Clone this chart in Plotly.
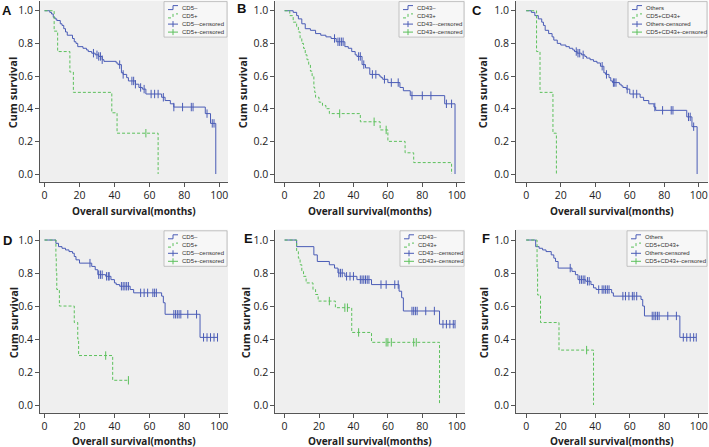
import plotly.graph_objects as go

W, H = 709, 447

# ---------------- DATA ----------------
# Panel A: CD5- (blue) / CD5+ (green)
A_neg_t = [0, 3, 4, 5, 6, 7, 9, 10, 11, 12, 13, 16, 17, 18, 19, 22, 24, 25, 27, 29, 31, 33, 34, 41, 42, 44, 45, 47, 48, 52, 54, 56, 58, 67, 69, 72, 74, 92, 95, 98]
A_neg_s = [1.0, 0.99, 0.98, 0.96, 0.95, 0.94, 0.92, 0.91, 0.89, 0.87, 0.85, 0.83, 0.81, 0.80, 0.78, 0.77, 0.76, 0.75, 0.74, 0.73, 0.72, 0.70, 0.69, 0.68, 0.67, 0.62, 0.61, 0.59, 0.57, 0.55, 0.53, 0.52, 0.49, 0.47, 0.45, 0.43, 0.41, 0.37, 0.31, 0.0]
A_neg_ct = [28, 30, 31, 32, 33, 43, 45, 50, 51, 52, 55, 57, 61, 63, 65, 68, 74, 79, 84, 85, 93, 96, 97]
A_neg_cs = [0.74, 0.73, 0.72, 0.72, 0.70, 0.67, 0.61, 0.57, 0.57, 0.55, 0.53, 0.52, 0.49, 0.49, 0.49, 0.47, 0.41, 0.41, 0.41, 0.41, 0.37, 0.31, 0.31]
A_pos_t = [0, 5.5, 7.5, 14.5, 16.5, 38.5, 41.5, 65]
A_pos_s = [1.0, 0.875, 0.75, 0.625, 0.5, 0.375, 0.25, 0.0]
A_pos_ct = [58]
A_pos_cs = [0.25]

# Panel B: CD43- / CD43+
B_neg_t = [0, 5, 7, 8, 10, 12, 15, 18, 21, 24, 27, 30, 35, 37, 39, 41, 42, 45, 47, 49.5, 55, 56, 57, 60, 67, 69, 73, 93, 99]
B_neg_s = [1.0, 0.99, 0.97, 0.95, 0.92, 0.89, 0.88, 0.86, 0.85, 0.84, 0.83, 0.81, 0.78, 0.77, 0.75, 0.73, 0.72, 0.67, 0.65, 0.61, 0.60, 0.59, 0.58, 0.56, 0.53, 0.51, 0.48, 0.43, 0.0]
B_neg_ct = [29, 31, 32, 33, 34, 43, 44, 46, 51, 53, 58, 62, 66, 74, 80, 85, 94, 97]
B_neg_cs = [0.83, 0.81, 0.81, 0.81, 0.81, 0.72, 0.72, 0.67, 0.61, 0.61, 0.58, 0.56, 0.56, 0.48, 0.48, 0.48, 0.43, 0.43]
B_pos_t = [0, 3, 5, 7, 8, 9, 10, 11, 12, 13, 14, 15, 16, 17, 17.5, 18, 20, 22, 24, 26, 44, 55.5, 60, 70, 75, 97]
B_pos_s = [1.0, 0.97, 0.93, 0.90, 0.87, 0.83, 0.80, 0.77, 0.73, 0.70, 0.67, 0.63, 0.60, 0.53, 0.50, 0.47, 0.44, 0.42, 0.40, 0.37, 0.32, 0.27, 0.20, 0.13, 0.07, 0.0]
B_pos_ct = [32, 52, 59]
B_pos_cs = [0.37, 0.32, 0.27]

# Panel C: Others / CD5+CD43+
C_neg_t = [0, 3, 5, 7, 9, 10, 11, 13, 15, 16, 18, 20, 23, 25, 27, 28, 29.5, 32, 34, 35, 37, 39, 41, 43, 45, 46, 48, 49, 50, 54, 55, 56, 58, 60, 66, 68, 71, 74, 75, 93, 96, 99]
C_neg_s = [1.0, 0.99, 0.97, 0.95, 0.93, 0.91, 0.88, 0.86, 0.84, 0.82, 0.80, 0.79, 0.78, 0.77, 0.76, 0.75, 0.74, 0.73, 0.72, 0.71, 0.70, 0.69, 0.68, 0.66, 0.62, 0.61, 0.59, 0.57, 0.56, 0.55, 0.54, 0.53, 0.52, 0.49, 0.47, 0.45, 0.43, 0.41, 0.39, 0.35, 0.29, 0.0]
C_neg_ct = [29, 30, 31, 33, 44, 46.5, 50.5, 51, 52, 58.5, 62, 64, 74.5, 79, 84, 85, 94, 95, 97]
C_neg_cs = [0.75, 0.74, 0.74, 0.73, 0.66, 0.61, 0.56, 0.56, 0.56, 0.52, 0.49, 0.49, 0.41, 0.39, 0.39, 0.39, 0.35, 0.35, 0.29]
C_pos_t = [0, 6, 8, 15.5, 17.5]
C_pos_s = [1.0, 0.75, 0.5, 0.25, 0.0]
C_pos_ct = []
C_pos_cs = []

# Panel D: CD5- / CD5+
D_neg_t = [0, 6.5, 8, 10, 12, 14, 16, 17, 18, 20, 27, 29, 30.5, 35, 38, 40, 41, 43, 49, 51, 67, 68, 69, 89, 99]
D_neg_s = [1.0, 0.98, 0.96, 0.95, 0.94, 0.93, 0.92, 0.90, 0.88, 0.86, 0.84, 0.82, 0.79, 0.78, 0.76, 0.74, 0.73, 0.72, 0.70, 0.68, 0.66, 0.62, 0.55, 0.41, 0.41]
D_neg_ct = [26, 31, 32, 33, 35.5, 36.5, 37, 44, 45, 46, 47, 48, 55, 57, 59, 62, 63, 64, 74, 75, 76, 77, 78, 82, 87, 91, 93, 95, 97, 99]
D_neg_cs = [0.86, 0.79, 0.79, 0.79, 0.78, 0.78, 0.78, 0.72, 0.72, 0.72, 0.72, 0.72, 0.68, 0.68, 0.68, 0.68, 0.68, 0.68, 0.55, 0.55, 0.55, 0.55, 0.55, 0.55, 0.55, 0.41, 0.41, 0.41, 0.41, 0.41]
D_pos_t = [0, 6.5, 6.7, 7, 8.5, 17, 19, 19.5, 39, 48]
D_pos_s = [1.0, 0.9, 0.8, 0.7, 0.6, 0.5, 0.4, 0.3, 0.15, 0.15]
D_pos_ct = [35, 48]
D_pos_cs = [0.3, 0.15]

# Panel E: CD43- / CD43+
E_neg_t = [0, 7, 17, 19, 26, 29, 31, 35, 42, 50.5, 66.5, 68, 69, 90, 99]
E_neg_s = [1.0, 0.96, 0.91, 0.87, 0.85, 0.83, 0.80, 0.78, 0.76, 0.73, 0.69, 0.65, 0.57, 0.49, 0.49]
E_neg_ct = [31.5, 32.5, 33.5, 36, 38, 40, 44, 45, 46, 47, 48, 49, 56, 59, 64, 66, 74, 75, 76, 77, 82, 87, 92, 94, 96, 98, 99]
E_neg_cs = [0.80, 0.80, 0.80, 0.78, 0.78, 0.78, 0.76, 0.76, 0.76, 0.76, 0.76, 0.76, 0.73, 0.73, 0.73, 0.73, 0.57, 0.57, 0.57, 0.57, 0.57, 0.57, 0.49, 0.49, 0.49, 0.49, 0.49]
E_pos_t = [0, 7, 8, 9, 10, 11, 12.5, 16.5, 18, 19.5, 29.5, 39, 50.5, 90]
E_pos_s = [1.0, 0.93, 0.89, 0.85, 0.81, 0.78, 0.74, 0.70, 0.67, 0.63, 0.59, 0.44, 0.38, 0.0]
E_pos_ct = [26, 35, 36.5, 43, 59, 60, 62, 75, 76.5]
E_pos_cs = [0.63, 0.59, 0.59, 0.44, 0.38, 0.38, 0.38, 0.38, 0.38]

# Panel F: Others / CD5+CD43+
F_neg_t = [0, 5.5, 7.5, 9.5, 11.5, 14.5, 16, 17, 18.5, 26.5, 28.5, 30, 34.5, 37.5, 39, 40.5, 49.5, 50.5, 66.5, 67.5, 68.5, 89, 98.5]
F_neg_s = [1.0, 0.96, 0.95, 0.94, 0.93, 0.91, 0.89, 0.87, 0.83, 0.81, 0.79, 0.76, 0.75, 0.73, 0.71, 0.70, 0.68, 0.66, 0.64, 0.60, 0.54, 0.41, 0.41]
F_neg_ct = [25.5, 31, 32, 33, 34, 35.5, 36.5, 42, 44, 45, 46, 47, 48, 56, 57.5, 59.5, 61.5, 62.5, 64, 73, 74, 75, 76, 77, 82, 87, 91, 93, 95, 97, 98.5]
F_neg_cs = [0.83, 0.76, 0.76, 0.76, 0.76, 0.75, 0.75, 0.70, 0.70, 0.70, 0.70, 0.70, 0.70, 0.66, 0.66, 0.66, 0.66, 0.66, 0.66, 0.54, 0.54, 0.54, 0.54, 0.54, 0.54, 0.54, 0.41, 0.41, 0.41, 0.41, 0.41]
F_pos_t = [0, 6.3, 6.6, 8.3, 19, 39]
F_pos_s = [1.0, 0.833, 0.667, 0.5, 0.333, 0.0]
F_pos_ct = [35]
F_pos_cs = [0.333]

panel_letters = ["A", "B", "C", "D", "E", "F"]
legend_labels = [
    ["CD5\u2013", "CD5+", "CD5\u2013-censored", "CD5+-censored"],
    ["CD43\u2013", "CD43+", "CD43\u2013-censored", "CD43+-censored"],
    ["Others", "CD5+CD43+", "Others-censored", "CD5+CD43+-censored"],
    ["CD5\u2013", "CD5+", "CD5\u2013-censored", "CD5+-censored"],
    ["CD43\u2013", "CD43+", "CD43\u2013-censored", "CD43+-censored"],
    ["Others", "CD5+CD43+", "Others-censored", "CD5+CD43+-censored"],
]
x_ticks = [0, 20, 40, 60, 80, 100]
y_ticks = [0.0, 0.2, 0.4, 0.6, 0.8, 1.0]
y_ticklabels = ["0.0", "0.2", "0.4", "0.6", "0.8", "1.0"]
x_title = "Overall survival(months)"
y_title = "Cum survival"

panels = [
    (A_neg_t, A_neg_s, A_neg_ct, A_neg_cs, A_pos_t, A_pos_s, A_pos_ct, A_pos_cs),
    (B_neg_t, B_neg_s, B_neg_ct, B_neg_cs, B_pos_t, B_pos_s, B_pos_ct, B_pos_cs),
    (C_neg_t, C_neg_s, C_neg_ct, C_neg_cs, C_pos_t, C_pos_s, C_pos_ct, C_pos_cs),
    (D_neg_t, D_neg_s, D_neg_ct, D_neg_cs, D_pos_t, D_pos_s, D_pos_ct, D_pos_cs),
    (E_neg_t, E_neg_s, E_neg_ct, E_neg_cs, E_pos_t, E_pos_s, E_pos_ct, E_pos_cs),
    (F_neg_t, F_neg_s, F_neg_ct, F_neg_cs, F_pos_t, F_pos_s, F_pos_ct, F_pos_cs),
]

# ---------------- LAYOUT (pixel geometry) ----------------
BLUE = "#4a5cb6"
GREEN = "#5cc05c"
AX = "#555555"

col_px = [(40, 228), (275.3, 465), (516, 708)]
col_rng = [(-2.6, 105), (-5.4, 104.8), (-5.9, 105.3)]
row_px = [(0.6, 181.7), (229.8, 412.8)]
xtitle_off = [29.5, 27.8]
y_rng = [-0.047, 1.062]

def px2x(p):
    return p / W

def px2y(p):
    return 1 - p / H

fig = go.Figure()
layout = dict(
    width=W, height=H, autosize=False,
    margin=dict(l=0, r=0, t=0, b=0),
    paper_bgcolor="white", plot_bgcolor="#efefef",
    showlegend=False,
    font=dict(family="Open Sans", color="#222"),
)
annotations = []
shapes = []

letter_pos = [(7, 10), (241, 9), (477, 10), (7, 240), (248, 238), (486, 238)]
ytitle_x = [12, 242, 482, 13, 245, 483]
legend_text_x = [180, 415, 644, 180, 416, 643]
legend_right = [227, 464, 707, 227, 464, 707]

for i, p in enumerate(panels):
    r, c = divmod(i, 3)
    n = i + 1
    xa = "x" if n == 1 else f"x{n}"
    ya = "y" if n == 1 else f"y{n}"
    nt, ns, nct, ncs, pt, ps, pct, pcs = p
    fig.add_trace(go.Scatter(x=nt, y=ns, mode="lines", line=dict(color=BLUE, width=1, shape="hv"),
                             xaxis=xa, yaxis=ya))
    fig.add_trace(go.Scatter(x=pt, y=ps, mode="lines", line=dict(color=GREEN, width=1, shape="hv", dash="3px,2px"),
                             xaxis=xa, yaxis=ya))
    fig.add_trace(go.Scatter(x=nct, y=ncs, mode="markers",
                             marker=dict(symbol="line-ns-open", size=6, color=BLUE,
                                         line=dict(color=BLUE, width=1)),
                             xaxis=xa, yaxis=ya))
    if pct:
        fig.add_trace(go.Scatter(x=pct, y=pcs, mode="markers",
                                 marker=dict(symbol="line-ns-open", size=6, color=GREEN,
                                             line=dict(color=GREEN, width=1)),
                                 xaxis=xa, yaxis=ya))
    x0, x1 = col_px[c]
    yt, yb = row_px[r]
    key_x = "xaxis" if n == 1 else f"xaxis{n}"
    key_y = "yaxis" if n == 1 else f"yaxis{n}"
    layout[key_x] = dict(domain=[px2x(x0), px2x(x1)], range=list(col_rng[c]), anchor=ya,
                         tickvals=x_ticks, showgrid=False, zeroline=False, showline=True,
                         linecolor=AX, linewidth=1, ticks="outside", ticklen=4, tickcolor=AX,
                         tickfont=dict(size=10.5, color="#222", family="Open Sans"))
    layout[key_y] = dict(domain=[px2y(yb), px2y(yt)], range=y_rng, anchor=xa,
                         tickvals=y_ticks, ticktext=y_ticklabels, showgrid=False, zeroline=False,
                         showline=True, linecolor=AX, linewidth=1, ticks="outside", ticklen=4,
                         tickcolor=AX, tickfont=dict(size=10.5, color="#222", family="Open Sans"))
    # titles
    annotations.append(dict(text=f"<b>{x_title}</b>", x=px2x((x0 + x1) / 2), y=px2y(yb + xtitle_off[r]),
                            xref="paper", yref="paper", showarrow=False, xanchor="center", yanchor="middle",
                            font=dict(size=10, family="Open Sans", color="#222")))
    annotations.append(dict(text=f"<b>{y_title}</b>", x=px2x(ytitle_x[i]), y=px2y((yt + yb) / 2 + 2),
                            xref="paper", yref="paper", showarrow=False, textangle=-90,
                            xanchor="center", yanchor="middle",
                            font=dict(size=11, family="Open Sans", color="#222")))
    lx, ly = letter_pos[i]
    annotations.append(dict(text=f"<b>{panel_letters[i]}</b>", x=px2x(lx), y=px2y(ly),
                            xref="paper", yref="paper", showarrow=False, xanchor="center", yanchor="middle",
                            font=dict(size=13, family="Liberation Sans", color="#111")))
    # custom legend
    tx = legend_text_x[i]
    rows = [yt + 7, yt + 15.3, yt + 23.5, yt + 31.5]
    shapes.append(dict(type="rect", xref="paper", yref="paper",
                       x0=px2x(tx - 16), x1=px2x(legend_right[i]), y0=px2y(yt + 36.5), y1=px2y(yt + 1),
                       fillcolor="#f7f7f7", line=dict(color="#b5b5b5", width=0.8), layer="above"))
    ix0, ix1 = tx - 12, tx - 2
    for k, lab in enumerate(legend_labels[i]):
        yy = rows[k]
        col = BLUE if k in (0, 2) else GREEN
        dash = "solid" if k in (0, 2) else "dot"
        if k < 2:
            path = (f"M {px2x(ix0)},{px2y(yy + 2)} L {px2x(ix0 + 5)},{px2y(yy + 2)} "
                    f"L {px2x(ix0 + 5)},{px2y(yy - 2)} L {px2x(ix1)},{px2y(yy - 2)}")
            shapes.append(dict(type="path", xref="paper", yref="paper", path=path,
                               line=dict(color=col, width=1, dash=dash), layer="above"))
        else:
            shapes.append(dict(type="line", xref="paper", yref="paper",
                               x0=px2x(ix0), x1=px2x(ix1), y0=px2y(yy), y1=px2y(yy),
                               line=dict(color=col, width=1), layer="above"))
            shapes.append(dict(type="line", xref="paper", yref="paper",
                               x0=px2x(ix0 + 5), x1=px2x(ix0 + 5), y0=px2y(yy - 3), y1=px2y(yy + 3),
                               line=dict(color=col, width=1), layer="above"))
        annotations.append(dict(text=lab, x=px2x(tx), y=px2y(yy), xref="paper", yref="paper",
                                showarrow=False, xanchor="left", yanchor="middle",
                                font=dict(size=6, family="Liberation Sans", color="#333")))

layout["annotations"] = annotations
layout["shapes"] = shapes
fig.update_layout(**layout)
fig.write_html("out.html", config={"displayModeBar": False},
               post_script="document.body.style.margin='0';")
